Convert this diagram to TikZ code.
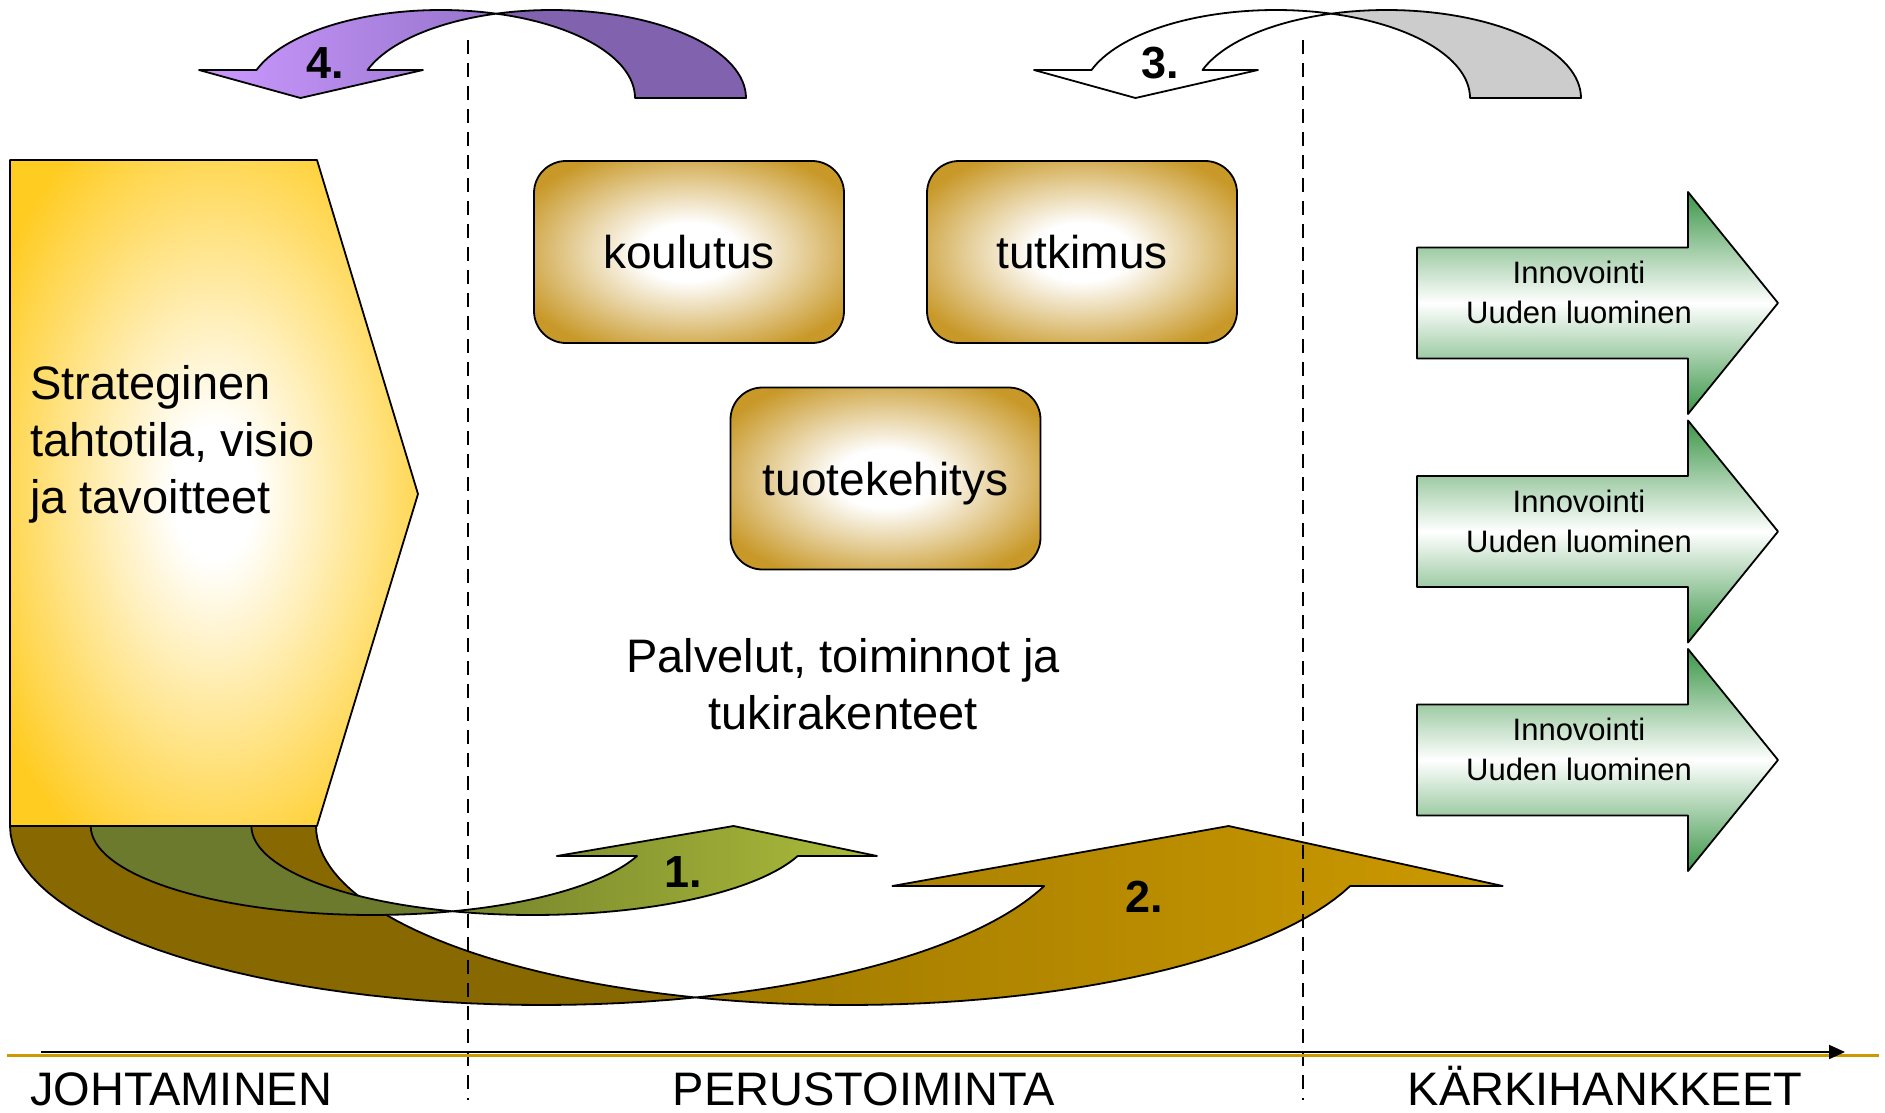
\documentclass[tikz,border=0pt]{standalone}
\usepackage{fontspec}
\setmainfont{Liberation Sans}
\usetikzlibrary{arrows.meta, shapes}

\definecolor{strgold}{RGB}{255,204,34}
\definecolor{boxgold}{RGB}{200,152,40}
\definecolor{innogreen}{RGB}{60,150,72}
\definecolor{backbrown}{RGB}{136,104,0}
\definecolor{frontbrownL}{RGB}{160,122,0}
\definecolor{frontbrownR}{RGB}{204,153,0}
\definecolor{backolive}{RGB}{108,122,46}
\definecolor{frontoliveL}{RGB}{118,132,44}
\definecolor{frontoliveR}{RGB}{172,188,58}
\definecolor{lilacL}{RGB}{204,153,255}
\definecolor{lilacR}{RGB}{150,116,204}
\definecolor{lilacback}{RGB}{128,98,174}
\definecolor{greyback}{RGB}{204,204,204}
\definecolor{axisgold}{RGB}{204,153,0}

\pgfdeclareradialshading{boxglow}{\pgfpoint{0bp}{0bp}}{color(0bp)=(white); color(8bp)=(white); color(30bp)=(boxgold); color(75bp)=(boxgold)}
\pgfdeclareradialshading{strglow}{\pgfpoint{0bp}{0bp}}{color(0bp)=(white); color(5bp)=(white); color(31bp)=(strgold); color(75bp)=(strgold)}

\tikzset{
	shape line/.style={draw=black, line width=1.8pt, line join=round},
	goldbox/.style={shape line, shade, shading=boxglow, rounded corners=32pt, minimum width=310pt, minimum height=182pt, inner sep=0pt, text depth=0pt, font=\fontsize{46}{55}\selectfont},
	innoarrow/.style={shape line, top color=innogreen, bottom color=innogreen, middle color=white},
	innotext/.style={inner sep=0pt, align=center, font=\fontsize{31}{40}\selectfont},
	bigtext/.style={inner sep=0pt, font=\fontsize{47}{57}\selectfont},
	numlabel/.style={inner sep=0pt, font=\fontsize{45}{45}\selectfont\bfseries},
	zonelabel/.style={inner sep=0pt, anchor=base, font=\fontsize{47}{47}\selectfont},
	zoneline/.style={dash pattern=on 14pt off 9pt, line width=1.8pt},
}

\begin{document}
\begin{tikzpicture}[x=1pt, y=-1pt]
		\useasboundingbox (0,0) rectangle (1885,1113);
		\def\tailtop{826}
		
		% strategy block
		\draw[shape line, shade, shading=strglow] (10,160) -- (317,160) -- (418,494) -- (317,\tailtop) -- (10,\tailtop) -- cycle;
		\node[bigtext, anchor=west, align=left] (strategia) at (30,444) {Strateginen\\tahtotila, visio\\ja tavoitteet};
		
		% curved arrow 2 (back part, then front part)
		\draw[shape line, fill=backbrown]
		plot[variable=\t, domain=180:73.3, samples=40] ({542.5+532.5*cos(\t)},{\tailtop+179*sin(\t)})
		-- plot[variable=\t, domain=106.7:180, samples=40] ({848.5+532.5*cos(\t)},{\tailtop+179*sin(\t)})
		-- cycle;
		% curved arrow 1 (back part)
		\draw[shape line, fill=backolive]
		plot[variable=\t, domain=180:73.4, samples=40] ({372.1+281.4*cos(\t)},{\tailtop+89*sin(\t)})
		-- plot[variable=\t, domain=106.6:180, samples=40] ({532.8+281.4*cos(\t)},{\tailtop+89*sin(\t)})
		-- cycle;
		\draw[shape line, left color=frontbrownL, right color=frontbrownR]
		plot[variable=\t, domain=106.7:19.6, samples=40] ({848.5+532.5*cos(\t)},{\tailtop+179*sin(\t)})
		-- (1502.7,886) -- (1228.6,\tailtop) -- (892.4,886)
		-- plot[variable=\t, domain=19.6:73.3, samples=40] ({542.5+532.5*cos(\t)},{\tailtop+179*sin(\t)})
		-- cycle;
		\draw[shape line, left color=frontoliveL, right color=frontoliveR]
		plot[variable=\t, domain=106.6:19.7, samples=40] ({532.8+281.4*cos(\t)},{\tailtop+89*sin(\t)})
		-- (877,856) -- (733.6,\tailtop) -- (556.8,856)
		-- plot[variable=\t, domain=19.7:73.4, samples=40] ({372.1+281.4*cos(\t)},{\tailtop+89*sin(\t)})
		-- cycle;
		\node[numlabel] (num1) at (683,872) {1.};
		\node[numlabel] (num2) at (1144.5,897) {2.};
		
		% draw top curved arrows 4. and 3.
		\foreach \dx/\cl/\cr/\cb/\num [count=\k] in {0/lilacL/lilacR/lilacback/4., 835/white/white/greyback/3.} {
			\begin{scope}[xshift=\dx pt]
				\draw[shape line, fill=\cb]
				plot[variable=\t, domain=253.4:360, samples=40] ({551.7+194.3*cos(\t)},{98+88*sin(\t)})
				-- plot[variable=\t, domain=360:286.6, samples=40] ({440.7+194.3*cos(\t)},{98+88*sin(\t)})
				-- cycle;
				\draw[shape line, left color=\cl, right color=\cr]
				plot[variable=\t, domain=198.55:286.6, samples=40] ({440.7+194.3*cos(\t)},{98+88*sin(\t)})
				-- plot[variable=\t, domain=253.4:198.55, samples=40] ({551.7+194.3*cos(\t)},{98+88*sin(\t)})
				-- (423,70) -- (300.5,98) -- (199,70) -- cycle;
				\node[numlabel] (top\k) at (325,63) {\num};
			\end{scope}
		}
		
		% activity boxes
		\node[goldbox] (koulutus) at (689,252) {koulutus};
		\node[goldbox] (tutkimus) at (1082,252) {tutkimus};
		\node[goldbox] (tuotekehitys) at (885.5,478.5) {tuotekehitys};
		\node[bigtext, align=center] (palvelut) at (843,684) {Palvelut, toiminnot ja\\tukirakenteet};
		
		% draw innovation arrows
		\foreach \cy [count=\i] in {303,531.5,760} {
			\draw[innoarrow] (1417,\cy-55.5) -- (1688,\cy-55.5) -- (1688,\cy-111) -- (1778,\cy)
			-- (1688,\cy+111) -- (1688,\cy+55.5) -- (1417,\cy+55.5) -- cycle;
			\node[innotext] (inno\i) at (1579,\cy-10.5) {Innovointi\\Uuden luominen};
		}
		
		% zone borders
		\foreach \x in {468,1303} {
			\draw[zoneline] (\x,40) -- (\x,1100);
		}
		
		% time axis and zone labels
		\draw[axisgold, line width=3pt] (7,1055) -- (1879,1055);
		\draw[line width=2pt, -{Triangle[length=16pt, width=14pt]}] (41,1052) -- (1845,1052);
		\node[zonelabel, anchor=base west] (johtaminen) at (30,1105) {JOHTAMINEN};
		\node[zonelabel] (perustoiminta) at (864,1105) {PERUSTOIMINTA};
		\node[zonelabel] (karki) at (1605,1105) {KÄRKIHANKKEET};
\end{tikzpicture}
\end{document}
